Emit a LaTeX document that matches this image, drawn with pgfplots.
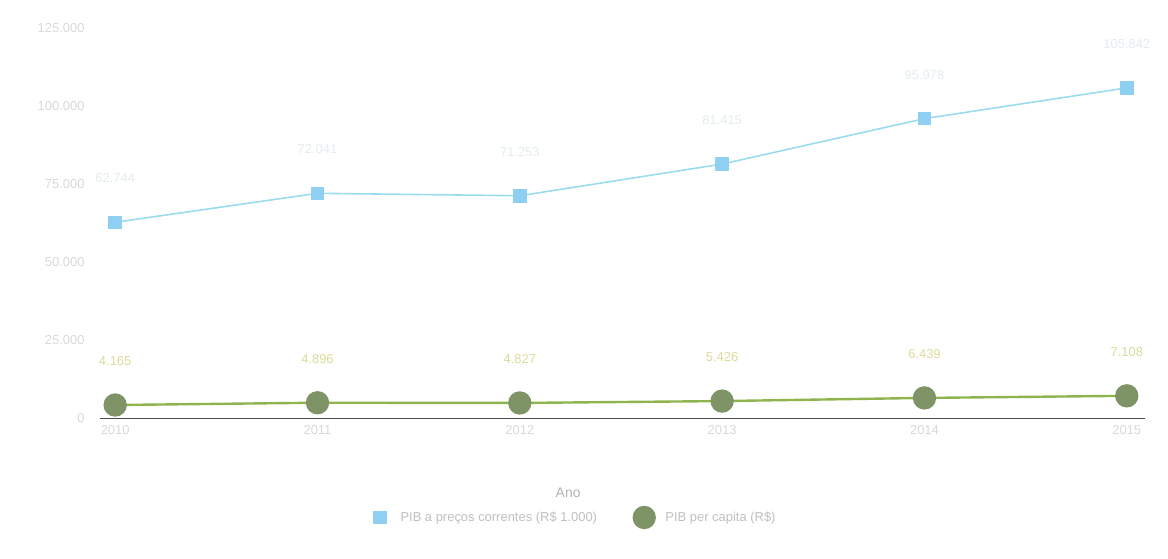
\documentclass[border=0pt]{standalone}
\usepackage{pgfplots}
\pgfplotsset{compat=1.18}
\usepackage{fontspec}
\setmainfont{Liberation Sans}

\definecolor{pibline}{HTML}{9ADCEE}
\definecolor{pibmark}{HTML}{8FD0F2}
\definecolor{pcline}{HTML}{8FB44E}
\definecolor{pcmark}{HTML}{7E9467}
\definecolor{faint}{HTML}{D8D8D8}
\definecolor{piblabel}{HTML}{E2ECEF}
\definecolor{pclabel}{HTML}{DADC9C}

\begin{document}
\begin{tikzpicture}
\useasboundingbox (-100bp,-141bp) rectangle (1068bp,418bp);
\begin{axis}[
  at={(0,0)}, anchor=south west,
  scale only axis, width=1045bp, height=398bp,
  xmin=-0.075, xmax=5.09,
  ymin=0, ymax=127600,
  clip=false,
  axis x line*=bottom, axis y line*=left,
  y axis line style={draw=none},
  x axis line style={draw=black!70, line width=1pt},
  major tick length=0pt,
  xtick={0,...,5},
  xticklabels={2010,2011,2012,2013,2014,2015},
  ytick={0,25000,50000,75000,100000,125000},
  scaled y ticks=false,
  yticklabel={\pgfmathprintnumber[fixed,precision=0,1000 sep={.}]{\tick}},
  /pgf/number format/assume math mode=true,
  tick label style={font=\fontsize{13}{15}\selectfont, text=faint},
  yticklabel style={xshift=-12bp},
  xticklabel style={yshift=-4bp},
  xlabel={Ano},
  x label style={at={(axis description cs:0.448,0)}, anchor=center,
    yshift=-75bp, font=\fontsize{14}{16}\selectfont, text=black!30},
  legend columns=2,
  legend style={at={(axis description cs:0.45,-0.25)}, anchor=center,
    draw=none, fill=none, font=\fontsize{13}{15}\selectfont, text=black!25,
    /tikz/every even column/.append style={column sep=28bp}},
  legend image code/.code={%
    \path (-4bp,0bp) (30bp,0bp);
    \draw[#1, mark repeat=2, mark phase=2, only marks]
      plot coordinates {(0bp,0bp) (12bp,0bp) (24bp,0bp)};},
  nodes near coords={\pgfmathprintnumber[fixed,precision=0,1000 sep={.}]{\pgfplotspointmeta}},
  every node near coord/.append style={anchor=center, yshift=44bp,
    font=\fontsize{13}{15}\selectfont},
]
% PIB a preços correntes (R$ 1.000)
\addplot[color=pibline, line width=1.6pt, mark=square*,
  mark size=6pt, mark options={fill=pibmark, draw=pibmark},
  every node near coord/.append style={text=piblabel}]
  coordinates {(0,62744) (1,72041) (2,71253) (3,81415) (4,95978) (5,105842)};
\addlegendentry{PIB a preços correntes (R\$ 1.000)}
% PIB per capita (R$)
\addplot[color=pcline, line width=2.4pt, mark=*,
  mark size=10.5pt, mark options={fill=pcmark, draw=pcmark},
  every node near coord/.append style={text=pclabel}]
  coordinates {(0,4165) (1,4896) (2,4827) (3,5426) (4,6439) (5,7108)};
\addlegendentry{PIB per capita (R\$)}
\end{axis}
\end{tikzpicture}
\end{document}
